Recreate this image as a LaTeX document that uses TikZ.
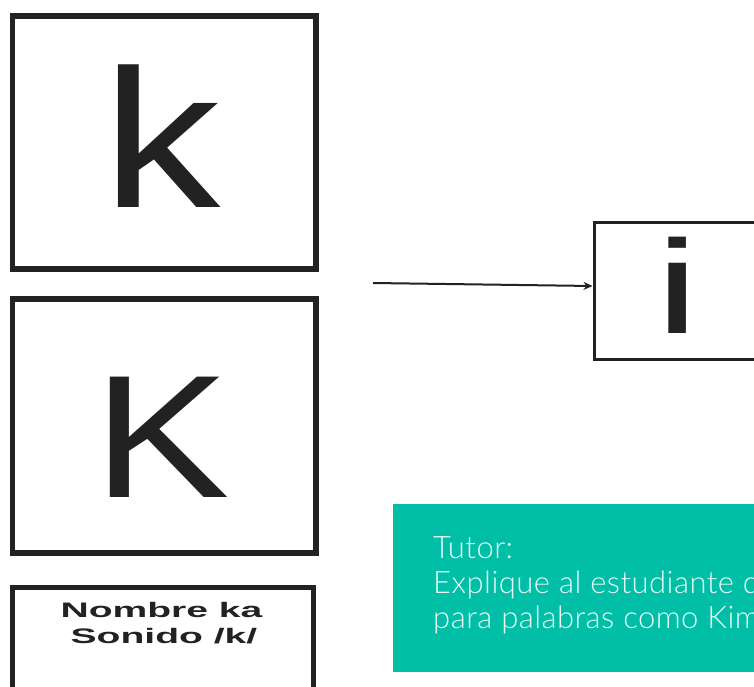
\documentclass[tikz,border=0pt]{standalone}
\usepackage{fontspec}
\usetikzlibrary{arrows.meta}
\setmainfont{Liberation Sans}
\newfontfamily\tutorfont[LetterSpace=1.5]{Lato Light}
\definecolor{ink}{RGB}{34,34,34}
\definecolor{tutorteal}{RGB}{0,191,166}
\definecolor{tutortext}{RGB}{232,250,246}
\begin{document}
\begin{tikzpicture}[x=1pt,y=-1pt,
  card/.style={draw=ink,line width=5.5pt,minimum width=303.5pt,inner sep=0pt,outer sep=0pt},
  glyph/.style={ink,anchor=base,inner sep=0pt},
  caption/.style={glyph,font=\bfseries\fontsize{21}{21}\selectfont}]
 \path[use as bounding box,clip] (0,0) rectangle (754,687);
 % letter cards
 \node[card,minimum height=253pt] (kbox) at (164.25,142.5) {};
 \node[glyph,font=\fontsize{197}{197}\selectfont] (ksmall) at (161.5,207) {\scalebox{1.2}[1]{k}};
 \node[card,minimum height=254pt] (Kbox) at (164.25,426) {};
 \node[glyph,font=\fontsize{175}{175}\selectfont] (Kbig) at (162,497) {\scalebox{1.17}[1]{K}};
 \node[card,line width=5pt,minimum width=300.5pt,minimum height=160pt] (namebox) at (162.75,667.5) {};
 \node[caption] (nameline) at (161.5,617) {\scalebox{1.86}[1]{Nombre ka}};
 \node[caption] (soundline) at (164,643) {\scalebox{1.86}[1]{Sonido /k/}};
 % vowel card
 \node[draw=ink,line width=3pt,minimum width=200pt,minimum height=137pt,outer sep=1.5pt] (ibox) at (694,290.5) {};
 \node[glyph,font=\fontsize{133}{133}\selectfont] (ichar) at (677.5,333) {\scalebox{1.5}[1]{i}};
 \coordinate (arrowstart) at (373,283);
 \draw[ink,line width=2pt,-{Stealth[length=9pt,width=8pt]}] (arrowstart) -- ([yshift=4.5pt]ibox.west);
 % tutor note
 \node[fill=tutorteal,minimum width=400pt,minimum height=168pt,inner sep=0pt] (tutor) at (593,588) {};
 \node[tutortext,anchor=base west,align=left,inner sep=0pt,font=\tutorfont\fontsize{31}{35}\selectfont] (tutornote) at (433,628)
   {Tutor:\\Explique al estudiante que\\para palabras como Kim};
\end{tikzpicture}
\end{document}
